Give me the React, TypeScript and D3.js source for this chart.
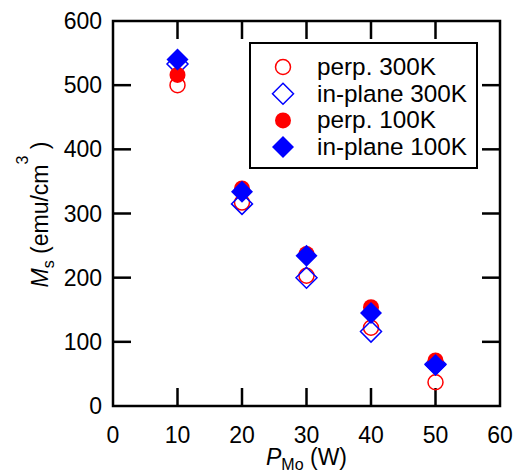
import React, {useRef, useEffect} from 'react'
import * as d3 from 'd3'

// P_Mo (W)
const power = [10, 20, 30, 40, 50]
// Ms (emu/cm^3)
const perp300 = [500, 317, 203, 122, 37]
const inPlane300 = [533, 315, 200, 116, 65]
const perp100 = [516, 339, 237, 154, 71]
const inPlane100 = [540, 334, 234, 145, 64]

const xTicks = [0, 10, 20, 30, 40, 50, 60]
const yTicks = [0, 100, 200, 300, 400, 500, 600]

const seriesList = [
  {name: 'perp. 300K', values: perp300, shape: 'circle', filled: false, color: '#ff0000'},
  {name: 'in-plane 300K', values: inPlane300, shape: 'diamond', filled: false, color: '#0000ff'},
  {name: 'perp. 100K', values: perp100, shape: 'circle', filled: true, color: '#ff0000'},
  {name: 'in-plane 100K', values: inPlane100, shape: 'diamond', filled: true, color: '#0000ff'}
]

const font = '"Liberation Sans", Arial, sans-serif'

export default function App() {
  const gRef = useRef<SVGGElement>(null)

  useEffect(() => {
    const g = d3.select(gRef.current)
    g.selectAll('*').remove()

    const left = 113
    const right = 500
    const top = 21
    const bottom = 406
    const tickLen = 18

    const x = d3.scaleLinear().domain([0, 60]).range([left, right])
    const y = d3.scaleLinear().domain([0, 600]).range([bottom, top])

    // ticks (inward, mirrored)
    const ticks = g.append('g').attr('stroke', '#000').attr('stroke-width', 2.5)
    xTicks.slice(1, -1).forEach(t => {
      ticks.append('line').attr('x1', x(t)).attr('x2', x(t)).attr('y1', bottom).attr('y2', bottom - tickLen)
      ticks.append('line').attr('x1', x(t)).attr('x2', x(t)).attr('y1', top).attr('y2', top + tickLen)
    })
    yTicks.slice(1, -1).forEach(t => {
      ticks.append('line').attr('x1', left).attr('x2', left + tickLen).attr('y1', y(t)).attr('y2', y(t))
      ticks.append('line').attr('x1', right).attr('x2', right - tickLen).attr('y1', y(t)).attr('y2', y(t))
    })

    g.append('rect')
      .attr('x', left)
      .attr('y', top)
      .attr('width', right - left)
      .attr('height', bottom - top)
      .attr('fill', 'none')
      .attr('stroke', '#000')
      .attr('stroke-width', 2.5)

    // tick labels
    g.append('g')
      .selectAll('text')
      .data(xTicks)
      .join('text')
      .attr('x', d => x(d))
      .attr('y', 443)
      .attr('text-anchor', 'middle')
      .attr('font-family', font)
      .attr('font-size', 23)
      .text(d => d)

    g.append('g')
      .selectAll('text')
      .data(yTicks)
      .join('text')
      .attr('x', 102)
      .attr('y', d => y(d) + 8)
      .attr('text-anchor', 'end')
      .attr('font-family', font)
      .attr('font-size', 23)
      .text(d => d)

    // axis titles
    const xt = g.append('text')
      .attr('x', (left + right) / 2)
      .attr('y', 465)
      .attr('text-anchor', 'middle')
      .attr('font-family', font)
      .attr('font-size', 23)
    xt.append('tspan').attr('font-style', 'italic').text('P')
    xt.append('tspan').attr('font-size', 16).attr('dy', 5).text('Mo')
    xt.append('tspan').attr('dy', -5).text(' (W)')

    const yt = g.append('text')
      .attr('transform', `translate(48,${(top + bottom) / 2 + 1}) rotate(-90)`)
      .attr('text-anchor', 'middle')
      .attr('font-family', font)
      .attr('font-size', 23)
    yt.append('tspan').attr('font-style', 'italic').text('M')
    yt.append('tspan').attr('font-size', 16).attr('dy', 6).text('s')
    yt.append('tspan').attr('dy', -6).text(' (emu/cm')
    yt.append('tspan').attr('font-size', 16).attr('dy', -20).text('3')
    yt.append('tspan').attr('dy', 20).text(' )')

    const drawMarker = (sel, s, cx, cy) => {
      if (s.shape === 'circle') {
        const r = s.filled ? 8 : 7.5
        sel.append('circle')
          .attr('cx', cx)
          .attr('cy', cy)
          .attr('r', r)
          .attr('fill', s.filled ? s.color : 'none')
          .attr('stroke', s.filled ? 'none' : s.color)
          .attr('stroke-width', 1.5)
      } else {
        const h = s.filled ? 11 : 10.5
        sel.append('path')
          .attr('d', `M${cx},${cy - h}L${cx + h},${cy}L${cx},${cy + h}L${cx - h},${cy}Z`)
          .attr('fill', s.filled ? s.color : 'none')
          .attr('stroke', s.filled ? 'none' : s.color)
          .attr('stroke-width', 1.5)
      }
    }

    // data points
    const pts = g.append('g')
    seriesList.forEach(s => {
      s.values.forEach((v, i) => drawMarker(pts, s, x(power[i]), y(v)))
    })

    // legend
    const lg = g.append('g')
    lg.append('rect')
      .attr('x', 250)
      .attr('y', 43)
      .attr('width', 227)
      .attr('height', 125)
      .attr('fill', '#fff')
      .attr('stroke', '#000')
      .attr('stroke-width', 2)
    seriesList.forEach((s, i) => {
      const ly = 67 + i * 26.7
      drawMarker(lg, s, 283, ly)
      lg.append('text')
        .attr('x', 317)
        .attr('y', ly + 8)
        .attr('font-family', font)
        .attr('font-size', 24.3)
        .text(s.name)
    })
  }, [])

  return (
    <svg width={513} height={473} style={{position: 'absolute', left: 0, top: 0, background: '#fff'}}>
      <g ref={gRef} />
    </svg>
  )
}
